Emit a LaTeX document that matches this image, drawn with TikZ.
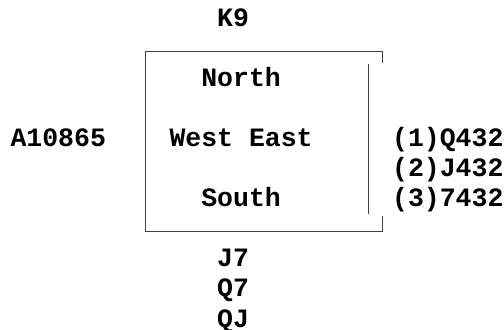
\documentclass[tikz,border=0pt]{standalone}
\usepackage{fontspec}
\setmonofont{Liberation Mono}
\begin{document}
\begin{tikzpicture}[x=1bp,y=-1bp,
  txt/.style={anchor=base west,inner sep=0pt,outer sep=0pt,
    font=\ttfamily\bfseries\fontsize{26.5bp}{30bp}\selectfont},
  boxline/.style={draw=black!75,line width=0.9bp}]
\useasboundingbox (0,0) rectangle (504,329);
% text, monospace grid: column c starts at 10.5+15.9c
\node[txt] (k9) at (217.2,26) {K9};
\node[txt] (north) at (201.3,86.2) {North};
\node[txt] (west) at (10.5,146.4) {A10865};
\node[txt] (we) at (169.5,146.4) {West East};
\node[txt] (o1) at (392.1,146.4) {(1)Q432};
\node[txt] (o2) at (392.1,176.5) {(2)J432};
\node[txt] (south) at (201.3,206.6) {South};
\node[txt] (o3) at (392.1,206.6) {(3)7432};
\node[txt] (s1) at (217.2,266.8) {J7};
\node[txt] (s2) at (217.2,296.9) {Q7};
\node[txt] (s3) at (217.2,327) {QJ};
% box
\coordinate (tl) at (145.7,51);
\coordinate (tr) at (382.3,51);
\coordinate (trt) at (382.3,63.3);
\coordinate (bl) at (145.7,231.7);
\coordinate (br) at (382.3,231.7);
\coordinate (brt) at (382.3,215.7);
\coordinate (it) at (368.3,64);
\coordinate (ib) at (368.3,214);
\draw[boxline] (trt) -- (tr) -- (tl) -- (bl) -- (br) -- (brt);
\draw[boxline] (it) -- (ib);
\end{tikzpicture}
\end{document}
